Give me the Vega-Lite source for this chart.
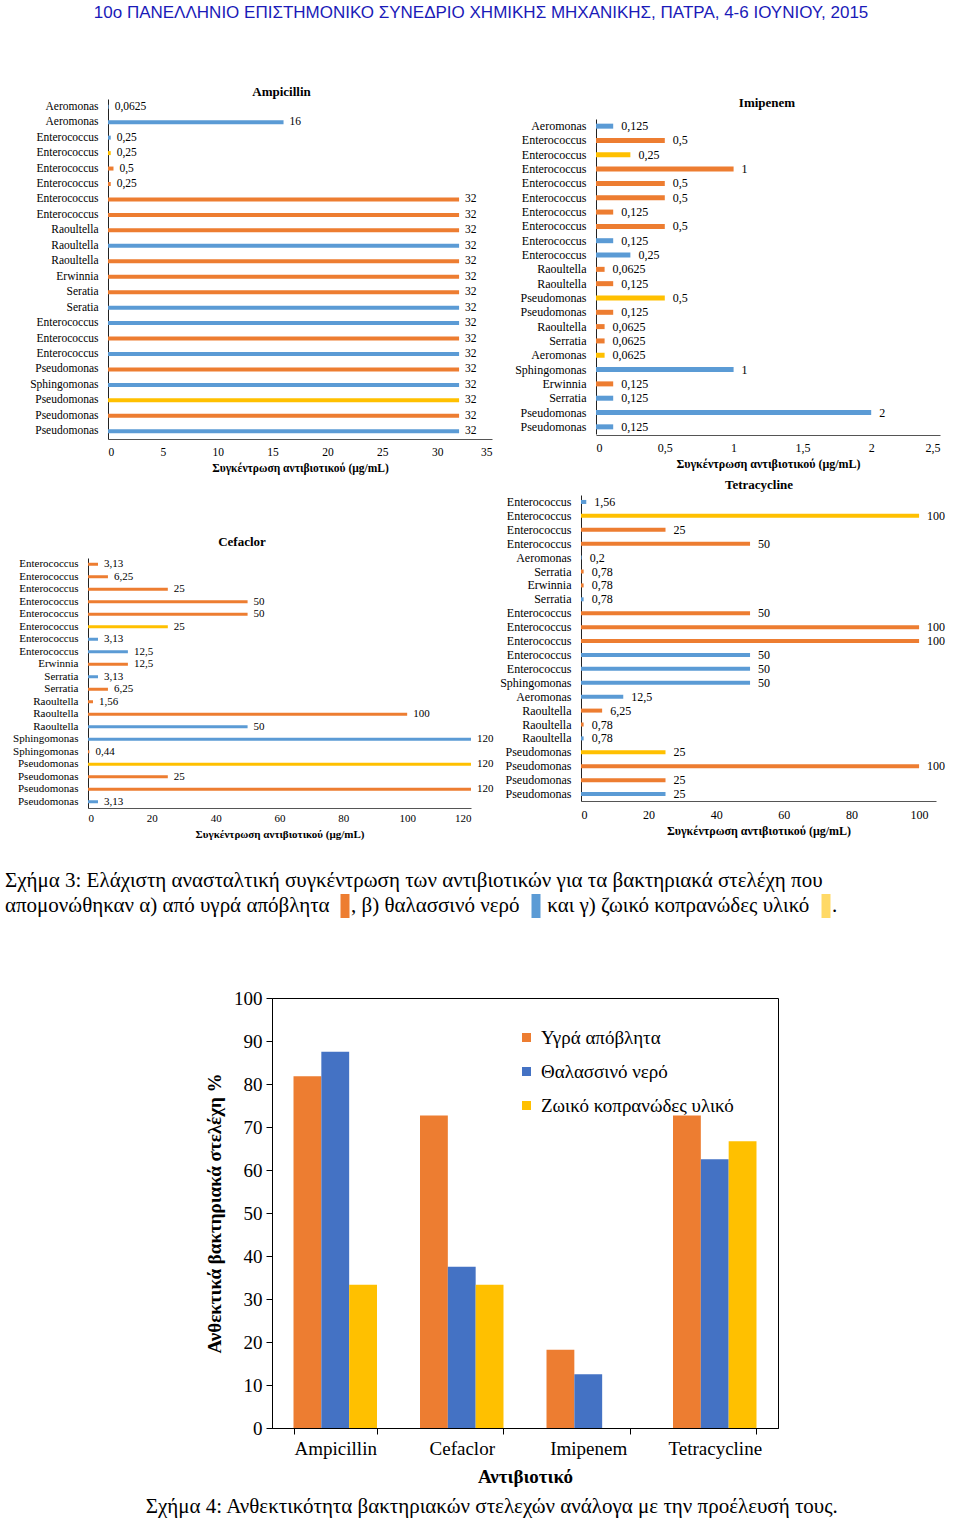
{
  "$schema": "https://vega.github.io/schema/vega-lite/v6.json",
  "padding": {"left": 5, "top": 4, "right": 4, "bottom": 0},
  "title": {"text": "10ο ΠΑΝΕΛΛΗΝΙΟ ΕΠΙΣΤΗΜΟΝΙΚΟ ΣΥΝΕΔΡΙΟ ΧΗΜΙΚΗΣ ΜΗΧΑΝΙΚΗΣ, ΠΑΤΡΑ, 4-6 ΙΟΥΝΙΟΥ, 2015", "font": "Liberation Sans", "fontSize": 17, "fontWeight": "normal", "color": "#1a1ab8", "anchor": "middle", "offset": 64, "dx": 6},
  "datasets": {
    "amp": [
      {"i": 1, "b": "Aeromonas", "v": 0.0625, "s": "Θαλασσινό νερό"},
      {"i": 2, "b": "Aeromonas", "v": 16, "s": "Θαλασσινό νερό"},
      {"i": 3, "b": "Enterococcus", "v": 0.25, "s": "Θαλασσινό νερό"},
      {"i": 4, "b": "Enterococcus", "v": 0.25, "s": "Ζωικό κοπρανώδες υλικό"},
      {"i": 5, "b": "Enterococcus", "v": 0.5, "s": "Υγρά απόβλητα"},
      {"i": 6, "b": "Enterococcus", "v": 0.25, "s": "Υγρά απόβλητα"},
      {"i": 7, "b": "Enterococcus", "v": 32, "s": "Υγρά απόβλητα"},
      {"i": 8, "b": "Enterococcus", "v": 32, "s": "Υγρά απόβλητα"},
      {"i": 9, "b": "Raoultella", "v": 32, "s": "Υγρά απόβλητα"},
      {"i": 10, "b": "Raoultella", "v": 32, "s": "Θαλασσινό νερό"},
      {"i": 11, "b": "Raoultella", "v": 32, "s": "Υγρά απόβλητα"},
      {"i": 12, "b": "Erwinnia", "v": 32, "s": "Υγρά απόβλητα"},
      {"i": 13, "b": "Seratia", "v": 32, "s": "Υγρά απόβλητα"},
      {"i": 14, "b": "Seratia", "v": 32, "s": "Θαλασσινό νερό"},
      {"i": 15, "b": "Enterococcus", "v": 32, "s": "Θαλασσινό νερό"},
      {"i": 16, "b": "Enterococcus", "v": 32, "s": "Υγρά απόβλητα"},
      {"i": 17, "b": "Enterococcus", "v": 32, "s": "Θαλασσινό νερό"},
      {"i": 18, "b": "Pseudomonas", "v": 32, "s": "Υγρά απόβλητα"},
      {"i": 19, "b": "Sphingomonas", "v": 32, "s": "Θαλασσινό νερό"},
      {"i": 20, "b": "Pseudomonas", "v": 32, "s": "Ζωικό κοπρανώδες υλικό"},
      {"i": 21, "b": "Pseudomonas", "v": 32, "s": "Υγρά απόβλητα"},
      {"i": 22, "b": "Pseudomonas", "v": 32, "s": "Θαλασσινό νερό"}
    ],
    "imi": [
      {"i": 1, "b": "Aeromonas", "v": 0.125, "s": "Θαλασσινό νερό"},
      {"i": 2, "b": "Enterococcus", "v": 0.5, "s": "Υγρά απόβλητα"},
      {"i": 3, "b": "Enterococcus", "v": 0.25, "s": "Ζωικό κοπρανώδες υλικό"},
      {"i": 4, "b": "Enterococcus", "v": 1, "s": "Υγρά απόβλητα"},
      {"i": 5, "b": "Enterococcus", "v": 0.5, "s": "Υγρά απόβλητα"},
      {"i": 6, "b": "Enterococcus", "v": 0.5, "s": "Υγρά απόβλητα"},
      {"i": 7, "b": "Enterococcus", "v": 0.125, "s": "Υγρά απόβλητα"},
      {"i": 8, "b": "Enterococcus", "v": 0.5, "s": "Υγρά απόβλητα"},
      {"i": 9, "b": "Enterococcus", "v": 0.125, "s": "Θαλασσινό νερό"},
      {"i": 10, "b": "Enterococcus", "v": 0.25, "s": "Θαλασσινό νερό"},
      {"i": 11, "b": "Raoultella", "v": 0.0625, "s": "Υγρά απόβλητα"},
      {"i": 12, "b": "Raoultella", "v": 0.125, "s": "Υγρά απόβλητα"},
      {"i": 13, "b": "Pseudomonas", "v": 0.5, "s": "Ζωικό κοπρανώδες υλικό"},
      {"i": 14, "b": "Pseudomonas", "v": 0.125, "s": "Υγρά απόβλητα"},
      {"i": 15, "b": "Raoultella", "v": 0.0625, "s": "Υγρά απόβλητα"},
      {"i": 16, "b": "Serratia", "v": 0.0625, "s": "Υγρά απόβλητα"},
      {"i": 17, "b": "Aeromonas", "v": 0.0625, "s": "Ζωικό κοπρανώδες υλικό"},
      {"i": 18, "b": "Sphingomonas", "v": 1, "s": "Θαλασσινό νερό"},
      {"i": 19, "b": "Erwinnia", "v": 0.125, "s": "Υγρά απόβλητα"},
      {"i": 20, "b": "Serratia", "v": 0.125, "s": "Θαλασσινό νερό"},
      {"i": 21, "b": "Pseudomonas", "v": 2, "s": "Θαλασσινό νερό"},
      {"i": 22, "b": "Pseudomonas", "v": 0.125, "s": "Θαλασσινό νερό"}
    ],
    "cef": [
      {"i": 1, "b": "Enterococcus", "v": 3.13, "s": "Υγρά απόβλητα"},
      {"i": 2, "b": "Enterococcus", "v": 6.25, "s": "Υγρά απόβλητα"},
      {"i": 3, "b": "Enterococcus", "v": 25, "s": "Υγρά απόβλητα"},
      {"i": 4, "b": "Enterococcus", "v": 50, "s": "Υγρά απόβλητα"},
      {"i": 5, "b": "Enterococcus", "v": 50, "s": "Υγρά απόβλητα"},
      {"i": 6, "b": "Enterococcus", "v": 25, "s": "Ζωικό κοπρανώδες υλικό"},
      {"i": 7, "b": "Enterococcus", "v": 3.13, "s": "Θαλασσινό νερό"},
      {"i": 8, "b": "Enterococcus", "v": 12.5, "s": "Θαλασσινό νερό"},
      {"i": 9, "b": "Erwinnia", "v": 12.5, "s": "Υγρά απόβλητα"},
      {"i": 10, "b": "Serratia", "v": 3.13, "s": "Θαλασσινό νερό"},
      {"i": 11, "b": "Serratia", "v": 6.25, "s": "Υγρά απόβλητα"},
      {"i": 12, "b": "Raoultella", "v": 1.56, "s": "Υγρά απόβλητα"},
      {"i": 13, "b": "Raoultella", "v": 100, "s": "Υγρά απόβλητα"},
      {"i": 14, "b": "Raoultella", "v": 50, "s": "Θαλασσινό νερό"},
      {"i": 15, "b": "Sphingomonas", "v": 120, "s": "Θαλασσινό νερό"},
      {"i": 16, "b": "Sphingomonas", "v": 0.44, "s": "Υγρά απόβλητα"},
      {"i": 17, "b": "Pseudomonas", "v": 120, "s": "Ζωικό κοπρανώδες υλικό"},
      {"i": 18, "b": "Pseudomonas", "v": 25, "s": "Υγρά απόβλητα"},
      {"i": 19, "b": "Pseudomonas", "v": 120, "s": "Υγρά απόβλητα"},
      {"i": 20, "b": "Pseudomonas", "v": 3.13, "s": "Θαλασσινό νερό"}
    ],
    "tet": [
      {"i": 1, "b": "Enterococcus", "v": 1.56, "s": "Θαλασσινό νερό"},
      {"i": 2, "b": "Enterococcus", "v": 100, "s": "Ζωικό κοπρανώδες υλικό"},
      {"i": 3, "b": "Enterococcus", "v": 25, "s": "Υγρά απόβλητα"},
      {"i": 4, "b": "Enterococcus", "v": 50, "s": "Υγρά απόβλητα"},
      {"i": 5, "b": "Aeromonas", "v": 0.2, "s": "Θαλασσινό νερό"},
      {"i": 6, "b": "Serratia", "v": 0.78, "s": "Υγρά απόβλητα"},
      {"i": 7, "b": "Erwinnia", "v": 0.78, "s": "Υγρά απόβλητα"},
      {"i": 8, "b": "Serratia", "v": 0.78, "s": "Θαλασσινό νερό"},
      {"i": 9, "b": "Enterococcus", "v": 50, "s": "Υγρά απόβλητα"},
      {"i": 10, "b": "Enterococcus", "v": 100, "s": "Υγρά απόβλητα"},
      {"i": 11, "b": "Enterococcus", "v": 100, "s": "Υγρά απόβλητα"},
      {"i": 12, "b": "Enterococcus", "v": 50, "s": "Θαλασσινό νερό"},
      {"i": 13, "b": "Enterococcus", "v": 50, "s": "Θαλασσινό νερό"},
      {"i": 14, "b": "Sphingomonas", "v": 50, "s": "Θαλασσινό νερό"},
      {"i": 15, "b": "Aeromonas", "v": 12.5, "s": "Θαλασσινό νερό"},
      {"i": 16, "b": "Raoultella", "v": 6.25, "s": "Υγρά απόβλητα"},
      {"i": 17, "b": "Raoultella", "v": 0.78, "s": "Υγρά απόβλητα"},
      {"i": 18, "b": "Raoultella", "v": 0.78, "s": "Θαλασσινό νερό"},
      {"i": 19, "b": "Pseudomonas", "v": 25, "s": "Ζωικό κοπρανώδες υλικό"},
      {"i": 20, "b": "Pseudomonas", "v": 100, "s": "Υγρά απόβλητα"},
      {"i": 21, "b": "Pseudomonas", "v": 25, "s": "Υγρά απόβλητα"},
      {"i": 22, "b": "Pseudomonas", "v": 25, "s": "Θαλασσινό νερό"}
    ]
  },
  "spacing": 30,
  "resolve": {"scale": {"color": "independent"}, "legend": {"color": "independent"}},
  "vconcat": [
    {
      "spacing": 4,
      "hconcat": [
        {
          "spacing": 61,
          "vconcat": [
            {
              "width": 487, "height": 340,
              "title": {"text": "Ampicillin", "fontSize": 13, "fontWeight": "bold", "offset": 0, "dx": 33},
              "data": {"name": "amp"},
              "transform": [{"calculate": "datum.i + '|' + datum.b", "as": "key"}],
              "encoding": {
                "y": {"field": "key", "type": "nominal", "sort": {"field": "i", "op": "min"}, "scale": {"paddingInner": 0, "paddingOuter": 0},
                      "axis": {"title": null, "ticks": false, "offset": -103, "labelExpr": "split(datum.label, '|')[1]", "labelFontSize": 11.5, "labelPadding": 10, "labelLimit": 200, "domainColor": "#222"}},
                "x": {"field": "v", "type": "quantitative", "scale": {"domain": [0, 35], "nice": false, "range": [103, 487]},
                      "axis": {"values": [0, 5, 10, 15, 20, 25, 30, 35], "format": ".6~g", "ticks": false, "labelFontSize": 11.5, "labelPadding": 7, "title": "Συγκέντρωση αντιβιοτικού (μg/mL)", "titleFontSize": 11.5, "titleFontWeight": "bold", "titlePadding": 5, "domainColor": "#555"}}
              },
              "layer": [
                {"mark": {"type": "bar", "size": 4},
                 "encoding": {"color": {"field": "s", "type": "nominal", "scale": {"domain": ["Υγρά απόβλητα", "Θαλασσινό νερό", "Ζωικό κοπρανώδες υλικό"], "range": ["#ED7D31", "#5B9BD5", "#FFC000"]}, "legend": null}}},
                {"mark": {"type": "text", "align": "left", "baseline": "middle", "dx": 6, "fontSize": 11.5, "color": "#000"},
                 "encoding": {"text": {"field": "v", "type": "quantitative", "format": "~g"}}}
              ]
            },
            {
              "width": 466, "height": 250,
              "title": {"text": "Cefaclor", "fontSize": 13, "fontWeight": "bold", "offset": 9, "dx": 4},
              "data": {"name": "cef"},
              "transform": [{"calculate": "datum.i + '|' + datum.b", "as": "key"}],
              "encoding": {
                "y": {"field": "key", "type": "nominal", "sort": {"field": "i", "op": "min"}, "scale": {"paddingInner": 0, "paddingOuter": 0},
                      "axis": {"title": null, "ticks": false, "offset": -83, "labelExpr": "split(datum.label, '|')[1]", "labelFontSize": 11, "labelPadding": 10, "labelLimit": 200, "domainColor": "#222"}},
                "x": {"field": "v", "type": "quantitative", "scale": {"domain": [0, 120], "nice": false, "range": [83, 466]},
                      "axis": {"values": [0, 20, 40, 60, 80, 100, 120], "format": ".6~g", "ticks": false, "labelFontSize": 11, "labelPadding": 4, "title": "Συγκέντρωση αντιβιοτικού (μg/mL)", "titleFontSize": 11, "titleFontWeight": "bold", "titlePadding": 5, "domainColor": "#555"}}
              },
              "layer": [
                {"mark": {"type": "bar", "size": 3},
                 "encoding": {"color": {"field": "s", "type": "nominal", "scale": {"domain": ["Υγρά απόβλητα", "Θαλασσινό νερό", "Ζωικό κοπρανώδες υλικό"], "range": ["#ED7D31", "#5B9BD5", "#FFC000"]}, "legend": null}}},
                {"mark": {"type": "text", "align": "left", "baseline": "middle", "dx": 6, "fontSize": 11, "color": "#000"},
                 "encoding": {"text": {"field": "v", "type": "quantitative", "format": "~g"}}}
              ]
            }
          ]
        },
        {
          "spacing": 10,
          "vconcat": [
            {
              "width": 442, "height": 336,
              "title": {"text": "Imipenem", "fontSize": 13, "fontWeight": "bold", "offset": -11, "dx": 48},
              "data": {"name": "imi"},
              "transform": [{"calculate": "datum.i + '|' + datum.b", "as": "key"}],
              "encoding": {
                "y": {"field": "key", "type": "nominal", "sort": {"field": "i", "op": "min"}, "scale": {"paddingInner": 0, "paddingOuter": 0, "range": [20, 335]},
                      "axis": {"title": null, "ticks": false, "offset": -98, "labelExpr": "split(datum.label, '|')[1]", "labelFontSize": 12, "labelPadding": 10, "labelLimit": 200, "domainColor": "#222"}},
                "x": {"field": "v", "type": "quantitative", "scale": {"domain": [0, 2.5], "nice": false, "range": [98, 442]},
                      "axis": {"values": [0, 0.5, 1, 1.5, 2, 2.5], "format": ".6~g", "ticks": false, "labelFontSize": 12, "labelPadding": 7, "title": "Συγκέντρωση αντιβιοτικού (μg/mL)", "titleFontSize": 12, "titleFontWeight": "bold", "titlePadding": 5, "domainColor": "#555"}}
              },
              "layer": [
                {"mark": {"type": "bar", "size": 5},
                 "encoding": {"color": {"field": "s", "type": "nominal", "scale": {"domain": ["Υγρά απόβλητα", "Θαλασσινό νερό", "Ζωικό κοπρανώδες υλικό"], "range": ["#ED7D31", "#5B9BD5", "#FFC000"]}, "legend": null}}},
                {"mark": {"type": "text", "align": "left", "baseline": "middle", "dx": 8, "fontSize": 12, "color": "#000"},
                 "encoding": {"text": {"field": "v", "type": "quantitative", "format": "~g"}}}
              ]
            },
            {
              "width": 438, "height": 306,
              "title": {"text": "Tetracycline", "fontSize": 13, "fontWeight": "bold", "offset": 3, "dx": 42},
              "data": {"name": "tet"},
              "transform": [{"calculate": "datum.i + '|' + datum.b", "as": "key"}],
              "encoding": {
                "y": {"field": "key", "type": "nominal", "sort": {"field": "i", "op": "min"}, "scale": {"paddingInner": 0, "paddingOuter": 0},
                      "axis": {"title": null, "ticks": false, "offset": -83, "labelExpr": "split(datum.label, '|')[1]", "labelFontSize": 12, "labelPadding": 10, "labelLimit": 200, "domainColor": "#222"}},
                "x": {"field": "v", "type": "quantitative", "scale": {"domain": [0, 105], "nice": false, "range": [83, 438]},
                      "axis": {"values": [0, 20, 40, 60, 80, 100], "format": ".6~g", "ticks": false, "labelFontSize": 12, "labelPadding": 8, "title": "Συγκέντρωση αντιβιοτικού (μg/mL)", "titleFontSize": 12, "titleFontWeight": "bold", "titlePadding": 5, "domainColor": "#555"}}
              },
              "layer": [
                {"mark": {"type": "bar", "size": 4},
                 "encoding": {"color": {"field": "s", "type": "nominal", "scale": {"domain": ["Υγρά απόβλητα", "Θαλασσινό νερό", "Ζωικό κοπρανώδες υλικό"], "range": ["#ED7D31", "#5B9BD5", "#FFC000"]}, "legend": null}}},
                {"mark": {"type": "text", "align": "left", "baseline": "middle", "dx": 8, "fontSize": 12, "color": "#000"},
                 "encoding": {"text": {"field": "v", "type": "quantitative", "format": "~g"}}}
              ]
            }
          ]
        }
      ]
    },
    {
      "spacing": 70,
      "resolve": {"scale": {"color": "independent"}, "legend": {"color": "independent"}},
      "vconcat": [
        {
          "width": 900, "height": 1,
          "title": {"text": "Σχήμα 3: Ελάχιστη ανασταλτική συγκέντρωση των αντιβιοτικών για τα βακτηριακά στελέχη που", "anchor": "start", "fontSize": 21, "fontWeight": "normal", "offset": 0},
          "data": {"values": [{"s": "Υγρά απόβλητα"}, {"s": "Θαλασσινό νερό"}, {"s": "Ζωικό κοπρανώδες υλικό"}]},
          "mark": {"type": "point", "filled": true, "opacity": 0},
          "encoding": {
            "color": {"field": "s", "type": "nominal",
              "scale": {"domain": ["Υγρά απόβλητα", "Θαλασσινό νερό", "Ζωικό κοπρανώδες υλικό"], "range": ["#ED7D31", "#5B9BD5", "#FFD966"]},
              "legend": {
                "orient": "bottom", "direction": "horizontal", "offset": 0, "padding": 0,
                "title": "απομονώθηκαν α) από υγρά απόβλητα", "titleOrient": "left", "titleFontSize": 21, "titleFontWeight": "normal", "titleFont": "Liberation Serif", "titleColor": "#000", "titleLimit": 800, "titlePadding": 3, "titleBaseline": "middle",
                "labelExpr": "datum.value == 'Υγρά απόβλητα' ? ', β) θαλασσινό νερό' : (datum.value == 'Θαλασσινό νερό' ? '\u200b\u00a0και γ) ζωικό κοπρανώδες υλικό' : '.')",
                "labelFontSize": 21, "labelFont": "Liberation Serif", "labelColor": "#000", "labelLimit": 800, "labelOffset": -6,
                "symbolType": "M-0.375,-1H0.375V1H-0.375Z", "symbolSize": 576, "symbolOpacity": 1, "symbolStrokeWidth": 0,
                "columnPadding": 4
              }
            }
          }
        },
        {
          "spacing": 0,
          "resolve": {"scale": {"color": "independent"}, "legend": {"color": "independent"}},
          "hconcat": [
            {
              "width": 139, "height": 10,
              "data": {"values": [{}]},
              "mark": {"type": "point", "opacity": 0}
            },
            {
              "width": 506, "height": 430,
              "view": {"stroke": "#000", "strokeWidth": 1},
              "title": {"text": "Σχήμα 4: Ανθεκτικότητα βακτηριακών στελεχών ανάλογα με την προέλευσή τους.", "orient": "bottom", "anchor": "middle", "frame": "bounds", "fontSize": 21, "fontWeight": "normal", "offset": 10},
              "data": {"values": [
                {"ab": "Ampicillin", "s": "Υγρά απόβλητα", "p": 81.8},
                {"ab": "Ampicillin", "s": "Θαλασσινό νερό", "p": 87.5},
                {"ab": "Ampicillin", "s": "Ζωικό κοπρανώδες υλικό", "p": 33.3},
                {"ab": "Cefaclor", "s": "Υγρά απόβλητα", "p": 72.7},
                {"ab": "Cefaclor", "s": "Θαλασσινό νερό", "p": 37.5},
                {"ab": "Cefaclor", "s": "Ζωικό κοπρανώδες υλικό", "p": 33.3},
                {"ab": "Imipenem", "s": "Υγρά απόβλητα", "p": 18.2},
                {"ab": "Imipenem", "s": "Θαλασσινό νερό", "p": 12.5},
                {"ab": "Imipenem", "s": "Ζωικό κοπρανώδες υλικό", "p": 0},
                {"ab": "Tetracycline", "s": "Υγρά απόβλητα", "p": 72.7},
                {"ab": "Tetracycline", "s": "Θαλασσινό νερό", "p": 62.5},
                {"ab": "Tetracycline", "s": "Ζωικό κοπρανώδες υλικό", "p": 66.7}
              ]},
              "mark": {"type": "bar"},
              "encoding": {
                "x": {"field": "ab", "type": "nominal", "sort": ["Ampicillin", "Cefaclor", "Imipenem", "Tetracycline"], "scale": {"paddingInner": 0.34, "paddingOuter": 0.17},
                      "axis": {"title": "Αντιβιοτικό", "labelAngle": 0, "labelFontSize": 19, "titleFontSize": 19, "titleFontWeight": "bold", "tickBand": "extent", "tickSize": 6, "tickColor": "#000", "domainColor": "#000", "labelPadding": 5, "titlePadding": 9}},
                "xOffset": {"field": "s", "type": "nominal", "sort": ["Υγρά απόβλητα", "Θαλασσινό νερό", "Ζωικό κοπρανώδες υλικό"], "scale": {"domain": ["Υγρά απόβλητα", "Θαλασσινό νερό", "Ζωικό κοπρανώδες υλικό"]}},
                "y": {"field": "p", "type": "quantitative", "scale": {"domain": [0, 100], "nice": false},
                      "axis": {"title": "Ανθεκτικά βακτηριακά στελέχη %", "values": [0, 10, 20, 30, 40, 50, 60, 70, 80, 90, 100], "labelFontSize": 19, "titleFontSize": 19, "titleFontWeight": "bold", "tickSize": 6, "tickColor": "#000", "domainColor": "#000", "labelPadding": 4, "titlePadding": 9}},
                "color": {"field": "s", "type": "nominal",
                  "scale": {"domain": ["Υγρά απόβλητα", "Θαλασσινό νερό", "Ζωικό κοπρανώδες υλικό"], "range": ["#ED7D31", "#4472C4", "#FFC000"]},
                  "legend": {"title": null, "orient": "none", "legendX": 245, "legendY": 30, "labelFontSize": 19, "labelFont": "Liberation Serif", "labelColor": "#000", "symbolType": "square", "symbolSize": 81, "symbolStrokeWidth": 0, "rowPadding": 14, "labelOffset": 5, "labelLimit": 400}}
              }
            }
          ]
        }
      ]
    }
  ],
  "config": {
    "locale": {"number": {"decimal": ",", "thousands": ".", "grouping": [3], "currency": ["", " €"]}},
    "view": {"stroke": null},
    "font": "Liberation Serif",
    "axis": {"grid": false, "labelFont": "Liberation Serif", "titleFont": "Liberation Serif", "labelColor": "#000", "titleColor": "#000"},
    "title": {"font": "Liberation Serif", "color": "#000"},
    "text": {"font": "Liberation Serif"}
  }
}
